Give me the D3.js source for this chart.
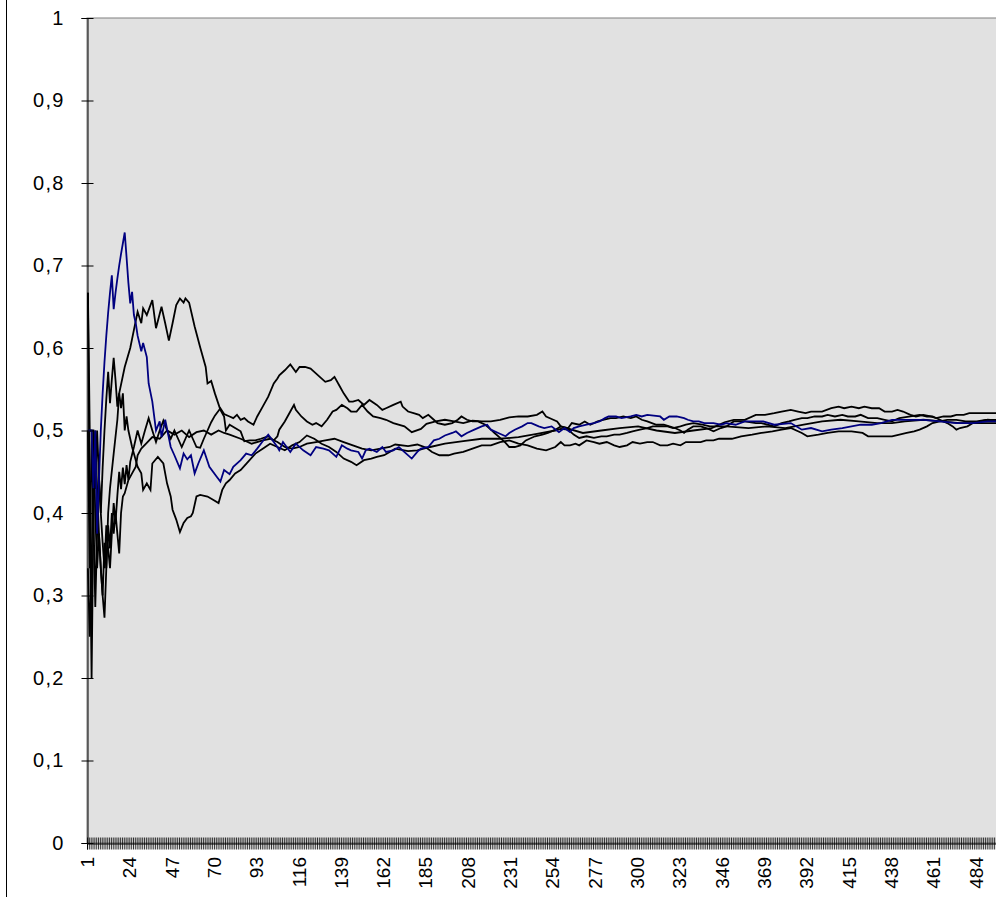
<!DOCTYPE html>
<html>
<head>
<meta charset="utf-8">
<script src="https://cdn.jsdelivr.net/npm/d3@7"></script>
<style>
  body { margin: 0; background: #fff; }
  svg { display: block; }
  text { font-family: Arial, "Liberation Sans", sans-serif; }
</style>
</head>
<body>
<div id="chart"></div>
<script>
// category count (x axis) and labelled categories
var nCats = 500;
var xLabels = d3.range(1, nCats, 23);   // 1, 24, 47 ... 484
var yTicks = [0, 0.1, 0.2, 0.3, 0.4, 0.5, 0.6, 0.7, 0.8, 0.9, 1];

// series: [category, value]
var blue = [[1,.5],[2,.5],[3,.5],[4,.43],[5,.5],[6,.375],[7,.44],[8,.5],[9,.545],[10,.583],[11,.615],[12,.643],[13,.667],[14,.688],[15,.647],[16,.667],[17,.684],[18,.7],[19,.714],[20,.727],[21,.74],[22,.71],[23,.679],[24,.654],[25,.668],[26,.64],[27,.63],[28,.615],[30,.596],[31,.606],[33,.589],[34,.557],[36,.535],[38,.5],[40,.511],[41,.492],[43,.513],[46,.48],[48,.47],[51,.454],[53,.472],[55,.465],[57,.47],[59,.448],[61,.46],[64,.476],[67,.456],[71,.444],[73,.438],[75,.452],[78,.447],[80,.456],[84,.464],[87,.472],[90,.47],[93,.478],[96,.487],[99,.495],[101,.489],[104,.48],[105,.476],[107,.486],[111,.474],[114,.484],[118,.476],[122,.47],[125,.48],[129,.478],[132,.476],[136,.468],[139,.482],[142,.478],[144,.476],[148,.474],[150,.466],[152,.476],[154,.478],[158,.474],[161,.48],[163,.474],[167,.476],[170,.48],
  [172,.476],[177,.466],[180,.474],[182,.478],[186,.48],[189,.488],[192,.49],[195,.494],[199,.497],[201,.499],[204,.493],[207,.497],[211,.501],[215,.505],[218,.507],[220,.501],[224,.497],[228,.493],[230,.497],[233,.501],[237,.505],[240,.509],[242,.509],[246,.505],[249,.503],[253,.505],[257,.498],[260,.503],
  [263,.498],[265,.503],[268,.505],[272,.507],[276,.509],[279,.511],[282,.515],[284,.517],[288,.517],[291,.515],[296,.517],[299,.519],[302,.517],[305,.519],[312,.517],[314,.513],[317,.517],[321,.517],[325,.515],[327,.513],[330,.511],[333,.511],[336,.509],[341,.509],[345,.507],[348,.509],
  [353,.507],[358,.511],[364,.511],[368,.511],[374,.507],[383,.509],[389,.501],[394,.503],[400,.499],[405,.501],[411,.503],[416,.505],[421,.507],[427,.507],[432,.509],[438,.513],
  [444,.513],[448,.513],[455,.513],[464,.511],[473,.509],[482,.509],[490,.511],[500,.511]];

var black1 = [[1,.667],[2,.4],[3,.2],[4,.4],[5,.5],[6,.429],[7,.375],[8,.333],[9,.3],[10,.273],[11,.333],[12,.4],[13,.43],[15,.472],[17,.513],[18,.545],[21,.577],[24,.6],[26,.622],[28,.644],[30,.63],[31,.648],[33,.64],[36,.658],[38,.624],[41,.65],[43,.63],[45,.609],[47,.63],[49,.652],[51,.66],[53,.655],[54,.66],[56,.655],[59,.626],[62,.601],[65,.577],[66,.557],[68,.56],[70,.545],[73,.525],[75,.517],[76,.5],[78,.507],[81,.503],[84,.499],[86,.487],[89,.488],[92,.488],[95,.49],[99,.493],[102,.488],[104,.493],[105,.501],[108,.511],[111,.523],[113,.531],[114,.525],[117,.517],[120,.511],[123,.507],[125,.509],[128,.505],[131,.513],[134,.523],[136,.525],[139,.531],[142,.527],[144,.523],[147,.523],[150,.531],[153,.523],[156,.517],[160,.515],[163,.513],[167,.509],
  [173,.505],[177,.498],[182,.502],[185,.508],[190,.511],[195,.513],[200,.511],[205,.509],[210,.512],[215,.511],[220,.511],[225,.513],[230,.516],[235,.517],[240,.517],[245,.519],[248,.523],[250,.517],[253,.514],[256,.511],[258,.505],
  [270,.497],[280,.5],[290,.503],[300,.505],[310,.5],[320,.497],[330,.5],[340,.503],[347,.51],
  [352,.513],[358,.513],[364,.519],[369,.519],[374,.521],[378,.523],[383,.525],[387,.523],[391,.521],[394,.523],[400,.523],[405,.527],[409,.529],[412,.527],[416,.529],[420,.527],[423,.529],[427,.527],[431,.527],[434,.523],[438,.523],
  [441,.525],[444,.523],[448,.519],[451,.517],[455,.519],[459,.517],[462,.515],[466,.517],[470,.517],[473,.519],[477,.519],[480,.521],[484,.521],[490,.521],[500,.521]];

var black2 = [[1,.5],[2,.333],[3,.5],[4,.4],[5,.286],[6,.375],[7,.444],[8,.4],[9,.455],[10,.5],[11,.538],[12,.571],[13,.533],[14,.562],[15,.588],[16,.561],[17,.529],[18,.545],[19,.527],[20,.545],[21,.5],[22,.517],[23,.5],[24,.49],[25,.48],[27,.464],[28,.456],[30,.448],[31,.428],[33,.436],[35,.428],[36,.46],[39,.468],[42,.46],[44,.436],[46,.42],[47,.404],[49,.392],[51,.377],[53,.388],[55,.394],[57,.396],[58,.4],[60,.42],[62,.422],[66,.42],[69,.416],[72,.412],[74,.428],[76,.436],[78,.44],[81,.448],[84,.452],[88,.462],[92,.472],[96,.478],[100,.484],[104,.48],[108,.476],[112,.482],[116,.486],[120,.494],[124,.49],[128,.484],[132,.48],[136,.474],[140,.466],[144,.462],[147,.458],[151,.464],[155,.466],[158,.468],[162,.47],[165,.474],[168,.478],
  [175,.475],[180,.476],[187,.48],[195,.484],[205,.487],[215,.49],[225,.49],[235,.492],[245,.496],[255,.5],[258,.502],
  [262,.501],[265,.495],[268,.491],[272,.493],[276,.491],[280,.493],[283,.493],[287,.495],[290,.495],[294,.497],[297,.499],[301,.501],[305,.503],[308,.505],[312,.505],[316,.505],[319,.503],[323,.505],[326,.507],[330,.509],[335,.507],[339,.505],[344,.505],[348,.505],
  [360,.503],[370,.505],[380,.503],[390,.507],[400,.511],[410,.513],[420,.511],[430,.509],[438,.509],
  [445,.511],[455,.513],[465,.511],[475,.509],[485,.509],[500,.509]];

var black3 = [[1,.333],[2,.25],[3,.333],[4,.5],[5,.4],[6,.333],[7,.375],[8,.333],[9,.3],[10,.364],[11,.333],[12,.385],[13,.357],[14,.4],[15,.375],[16,.4],[17,.375],[18,.351],[19,.4],[20,.42],[21,.424],[23,.44],[25,.448],[27,.456],[28,.47],[30,.478],[33,.485],[36,.492],[40,.49],[44,.5],[48,.495],[52,.5],[56,.492],[60,.498],[64,.5],[68,.495],[72,.5],[75,.497],[78,.495],[84,.49],[90,.484],[96,.488],[100,.49],[104,.486],[108,.48],[112,.478],[116,.48],[120,.484],[125,.486],[130,.488],[135,.49],[140,.486],[145,.482],[150,.478],[155,.476],[160,.478],[165,.48],[168,.483],
  [175,.481],[180,.483],[185,.479],[188,.474],[192,.47],[197,.47],[200,.472],[205,.474],[210,.478],[215,.482],[220,.482],[225,.486],[230,.488],[235,.484],[240,.482],[245,.478],[250,.476],[255,.48],[258,.486],
  [260,.482],[263,.482],[266,.484],[268,.482],[272,.488],[276,.486],[279,.484],[283,.486],[287,.482],[290,.48],[294,.482],[297,.486],[301,.484],[305,.486],[308,.486],[312,.482],[316,.482],[319,.484],[323,.482],[326,.486],[330,.486],[334,.486],[337,.488],[341,.488],[344,.49],[348,.49],
  [351,.49],[356,.493],[362,.495],[367,.497],[373,.499],[378,.501],[383,.503],[389,.497],[392,.493],[398,.495],[403,.497],[409,.499],[416,.499],[422,.497],[425,.493],[431,.493],[438,.493],
  [442,.495],[446,.497],[450,.499],[453,.501],[457,.505],[460,.509],[464,.511],[468,.513],[473,.513],[478,.511],[484,.511],[489,.513],[500,.513]];

var black4 = [[1,.667],[2,.5],[3,.5],[4,.5],[5,.429],[6,.5],[7,.444],[8,.4],[9,.364],[10,.333],[11,.385],[12,.357],[13,.333],[14,.375],[15,.412],[16,.389],[17,.421],[18,.45],[19,.429],[20,.455],[21,.435],[22,.458],[23,.44],[24,.462],[26,.48],[28,.5],[30,.484],[32,.5],[34,.515],[36,.5],[38,.486],[40,.5],[42,.512],[44,.5],[46,.49],[48,.5],[50,.49],[52,.48],[54,.49],[56,.5],[58,.49],[60,.48],[62,.479],[64,.49],[66,.5],[68,.51],[70,.518],[73,.527],
  [75,.52],[78,.517],[80,.515],[82,.519],[84,.513],[86,.515],[88,.511],[91,.507],[93,.517],[96,.529],[99,.541],[102,.557],[104,.563],[105,.567],[108,.573],[111,.58],[114,.571],[116,.577],[119,.577],[122,.575],[124,.571],[127,.565],[130,.559],[133,.561],[135,.565],[138,.553],[140,.545],[143,.535],[145,.535],[148,.537],[151,.531],[154,.537],[158,.531],[161,.525],[163,.527],[167,.531],[171,.535],
  [172,.529],[175,.523],[178,.521],[181,.519],[183,.515],[186,.519],[189,.513],[191,.509],[195,.507],[199,.509],[202,.513],[204,.517],[207,.513],[210,.511],[213,.511],[217,.507],[220,.501],[222,.497],[225,.491],[228,.485],[230,.48],[233,.48],[236,.482],[239,.488],[241,.49],[244,.493],[248,.495],[251,.497],[255,.501],[258,.505],
  [262,.503],[264,.509],[268,.507],[271,.511],[274,.507],[278,.511],[281,.513],[285,.515],[288,.515],[292,.517],[296,.515],[299,.517],[302,.513],[305,.511],[310,.507],[314,.507],[317,.505],[320,.503],[323,.5],[325,.497],[327,.501],[330,.505],[334,.505],[337,.503],[341,.499],[345,.503],[348,.505],
  [352,.511],[358,.511],[364,.509],[367,.509],[374,.505],[378,.509],[382,.511],[385,.513],[389,.515],[392,.515],[396,.517],[400,.517],[403,.519],[407,.517],[411,.519],[414,.517],[418,.517],[421,.519],[425,.515],[430,.515],[434,.513],[438,.511],
  [442,.515],[448,.517],[453,.519],[457,.517],[460,.517],[464,.513],[468,.509],[471,.505],[473,.501],[475,.503],[479,.505],[482,.509],[486,.511],[490,.513],[500,.511]];

var series = [
  { data: black1, color: "#000000" },
  { data: black2, color: "#000000" },
  { data: black3, color: "#000000" },
  { data: black4, color: "#000000" },
  { data: blue,   color: "#000080" }
];

var width = 996, height = 897;
var plotL = 87, plotT = 18, plotB = 843;
var catW = 1.84;
var plotR = plotL + nCats * catW;

var svg = d3.select("#chart").append("svg")
  .attr("width", width)
  .attr("height", height);

// outer chart border (only the left edge is in view)
svg.append("line")
  .attr("x1", 6.5).attr("x2", 6.5)
  .attr("y1", 0).attr("y2", height)
  .attr("stroke", "#000").attr("stroke-width", 1);

var x = d3.scaleLinear().domain([0.5, nCats + 0.5]).range([plotL, plotR]);
var y = d3.scaleLinear().domain([0, 1]).range([plotB, plotT]);

// plot area
svg.append("rect")
  .attr("x", plotL).attr("y", plotT)
  .attr("width", plotR - plotL).attr("height", plotB - plotT)
  .attr("fill", "#e1e1e1")
  .attr("stroke", "#808080").attr("stroke-width", 1);

var g = svg.append("g");

var line = d3.line()
  .x(function(d) { return x(d[0]); })
  .y(function(d) { return y(d[1]); });

series.forEach(function(s) {
  g.append("path")
    .datum(s.data)
    .attr("fill", "none")
    .attr("stroke", s.color)
    .attr("stroke-width", 1.8)
    .attr("stroke-linejoin", "miter")
    .attr("d", line);
});

// y axis
var yAxis = d3.axisLeft(y)
  .tickValues(yTicks)
  .tickSize(6)
  .tickPadding(17)
  .tickFormat(function(d) { return String(d).replace(".", ","); });

var ya = svg.append("g")
  .attr("transform", "translate(" + (plotL + 0.5) + ",0)")
  .call(yAxis);
ya.select(".domain").attr("stroke", "#000");
ya.selectAll(".tick line").attr("x2", -6).attr("x1", 6).attr("stroke", "#000");
ya.selectAll(".tick text")
  .attr("font-size", "20px")
  .attr("letter-spacing", "1.2px")
  .attr("font-family", "Arial, 'Liberation Sans', sans-serif")
  .attr("fill", "#000");

// x axis: a tick at every category boundary, labels every 23 categories
var xAxis = d3.axisBottom(x)
  .tickValues(d3.range(0, nCats + 1).map(function(i) { return i + 0.5; }))
  .tickSize(6)
  .tickFormat("");

var xa = svg.append("g")
  .attr("transform", "translate(0," + (plotB + 0.5) + ")")
  .call(xAxis);
xa.select(".domain").attr("stroke", "#000");
xa.selectAll(".tick line").attr("y1", -6).attr("y2", 6).attr("stroke", "#000").attr("stroke-width", 0.8);

svg.append("g").selectAll("text")
  .data(xLabels)
  .enter().append("text")
  .attr("transform", function(d) { return "translate(" + (x(d) + 6) + "," + (plotB + 14) + ") rotate(-90)"; })
  .attr("text-anchor", "end")
  .attr("font-size", "19px")
  .attr("fill", "#000")
  .text(function(d) { return d; });
</script>
</body>
</html>
